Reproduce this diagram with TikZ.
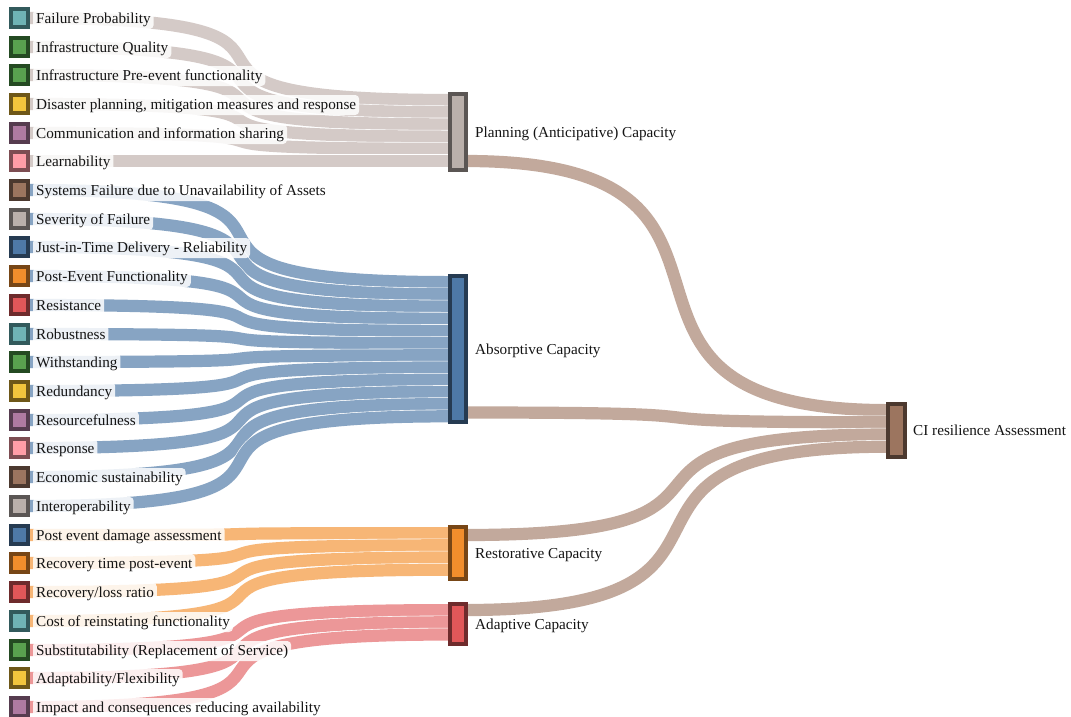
\documentclass[tikz,border=0pt]{standalone}
\usepackage{fontspec}
\setmainfont{Liberation Serif}
\pgfdeclarelayer{paper}
\pgfdeclarelayer{linklayer}
\pgfsetlayers{paper,linklayer,main}
\definecolor{cblue}{HTML}{4E79A7}\definecolor{cblueD}{HTML}{263B52}
\definecolor{corange}{HTML}{F28E2C}\definecolor{corangeD}{HTML}{774616}
\definecolor{cred}{HTML}{E15759}\definecolor{credD}{HTML}{6E2B2C}
\definecolor{cteal}{HTML}{6FB3B5}\definecolor{ctealD}{HTML}{325A5C}
\definecolor{cgreen}{HTML}{59A14F}\definecolor{cgreenD}{HTML}{244A22}
\definecolor{cyellow}{HTML}{F2C53D}\definecolor{cyellowD}{HTML}{6E5718}
\definecolor{cpurple}{HTML}{AF7AA1}\definecolor{cpurpleD}{HTML}{563C4F}
\definecolor{cpink}{HTML}{FF9DA7}\definecolor{cpinkD}{HTML}{7D4D52}
\definecolor{cbrown}{HTML}{9C755F}\definecolor{cbrownD}{HTML}{4C392F}
\definecolor{cgray}{HTML}{BAB0AB}\definecolor{cgrayD}{HTML}{5B5654}
\definecolor{txt}{HTML}{141414}
\definecolor{lgray}{HTML}{D4CAC7}
\colorlet{lblue}{cblue!68!white}
\colorlet{lorange}{corange!65!white}
\colorlet{lred}{cred!62!white}
\colorlet{lbrown}{cbrown!62!white}
\tikzset{
  sq/.style 2 args={draw=#1, fill=#2, line width=4pt, minimum width=17pt, minimum height=18pt, inner sep=0pt},
  capnode/.style 2 args={draw=#1, fill=#2, line width=4pt, minimum width=16pt, inner sep=0pt},
  lab/.style={anchor=west, fill=white, fill opacity=0.85, text opacity=1, rounded corners=4pt,
    inner xsep=3pt, inner ysep=3pt, text height=11.3pt, text depth=2.7pt,
    font=\fontsize{15.2}{18}\selectfont, text=txt},
  clab/.style={anchor=west, inner sep=0pt, text height=11.3pt, text depth=2.7pt,
    font=\fontsize{15.2}{18}\selectfont, text=txt},
  lnk/.style={draw=#1, line width=12.2pt, preaction={draw=white, line width=13.4pt}}
}
\begin{document}
\begin{tikzpicture}[x=1pt,y=-1pt]
\useasboundingbox (0,0) rectangle (1071,716);
\begin{pgfonlayer}{paper}
\fill[white] (0,0) rectangle (1071,716);
\end{pgfonlayer}
% target ports
\coordinate (p1) at (450,100);   \coordinate (p2) at (450,112.2);
\coordinate (p3) at (450,124.4); \coordinate (p4) at (450,136.6);
\coordinate (p5) at (450,148.8); \coordinate (p6) at (450,161);
\coordinate (a1) at (450,282.1); \coordinate (a2) at (450,294.3);
\coordinate (a3) at (450,306.5); \coordinate (a4) at (450,318.7);
\coordinate (a5) at (450,330.9); \coordinate (a6) at (450,343.1);
\coordinate (a7) at (450,355.3); \coordinate (a8) at (450,367.5);
\coordinate (a9) at (450,379.7); \coordinate (a10) at (450,391.9);
\coordinate (a11) at (450,404.1); \coordinate (a12) at (450,416.3);
\coordinate (r1) at (450,533.1); \coordinate (r2) at (450,545.3);
\coordinate (r3) at (450,557.5); \coordinate (r4) at (450,569.7);
\coordinate (d1) at (450,610.1); \coordinate (d2) at (450,622.3);
\coordinate (d3) at (450,634.5);
\coordinate (c1) at (888,410.1); \coordinate (c2) at (888,422.3);
\coordinate (c3) at (888,434.5); \coordinate (c4) at (888,446.7);
\coordinate (po) at (466,161);   \coordinate (ao) at (466,412.5);
\coordinate (ro) at (466,535);   \coordinate (do) at (466,610);
% source nodes, labels and links
\foreach \i/\y/\cc/\pp/\lc/\tx in {
 1/18/cteal/p1/lgray/{Failure Probability},
 2/47/cgreen/p2/lgray/{Infrastructure Quality},
 3/75/cgreen/p3/lgray/{Infrastructure Pre-event functionality},
 4/104/cyellow/p4/lgray/{Disaster planning, mitigation measures and response},
 5/133/cpurple/p5/lgray/{Communication and information sharing},
 6/161/cpink/p6/lgray/{Learnability},
 7/190/cbrown/a1/lblue/{Systems Failure due to Unavailability of Assets},
 8/219/cgray/a2/lblue/{Severity of Failure},
 9/247/cblue/a3/lblue/{Just-in-Time Delivery - Reliability},
 10/276/corange/a4/lblue/{Post-Event Functionality},
 11/305/cred/a5/lblue/{Resistance},
 12/334/cteal/a6/lblue/{Robustness},
 13/362/cgreen/a7/lblue/{Withstanding},
 14/391/cyellow/a8/lblue/{Redundancy},
 15/420/cpurple/a9/lblue/{Resourcefulness},
 16/448/cpink/a10/lblue/{Response},
 17/477/cbrown/a11/lblue/{Economic sustainability},
 18/506/cgray/a12/lblue/{Interoperability},
 19/535/cblue/r1/lorange/{Post event damage assessment},
 20/563/corange/r2/lorange/{Recovery time post-event},
 21/592/cred/r3/lorange/{Recovery/loss ratio},
 22/621/cteal/r4/lorange/{Cost of reinstating functionality},
 23/650/cgreen/d1/lred/{Substitutability (Replacement of Service)},
 24/678/cyellow/d2/lred/{Adaptability/Flexibility},
 25/707/cpurple/d3/lred/{Impact and consequences reducing availability}}{
  \node[sq={\cc D}{\cc}] (s\i) at (19.5,\y) {};
  \node[lab] (t\i) at (33,\y+1) {\tx};
  \begin{pgfonlayer}{linklayer}
  \draw[lnk=\lc] (s\i.east) .. controls +(370,0) and +(-370,0) .. (\pp);
  \end{pgfonlayer}
}
% capacity nodes
\node[capnode={cgrayD}{cgray}, minimum height=76pt] (plan) at (458,132) {};
\node[capnode={cblueD}{cblue}, minimum height=146pt] (abs) at (458,349) {};
\node[capnode={corangeD}{corange}, minimum height=52pt] (res) at (458,553) {};
\node[capnode={credD}{cred}, minimum height=40pt] (ada) at (458,624) {};
\node[capnode={cbrownD}{cbrown}, minimum width=17pt, minimum height=53pt] (ci) at (896.5,430.5) {};
\node[clab] (lplan) at (475,133) {Planning (Anticipative) Capacity};
\node[clab] (labs) at (475,350) {Absorptive Capacity};
\node[clab] (lres) at (475,554) {Restorative Capacity};
\node[clab] (lada) at (475,625) {Adaptive Capacity};
\node[clab] (lci) at (913,431.5) {CI resilience Assessment};
% second stage links
\begin{pgfonlayer}{linklayer}
\draw[lnk=lbrown] (po) .. controls +(345,0) and +(-345,0) .. (c1);
\draw[lnk=lbrown] (ao) .. controls +(338,0) and +(-338,0) .. (c2);
\draw[lnk=lbrown] (ro) .. controls +(338,0) and +(-338,0) .. (c3);
\draw[lnk=lbrown] (do) .. controls +(338,0) and +(-338,0) .. (c4);
\end{pgfonlayer}
\end{tikzpicture}
\end{document}
